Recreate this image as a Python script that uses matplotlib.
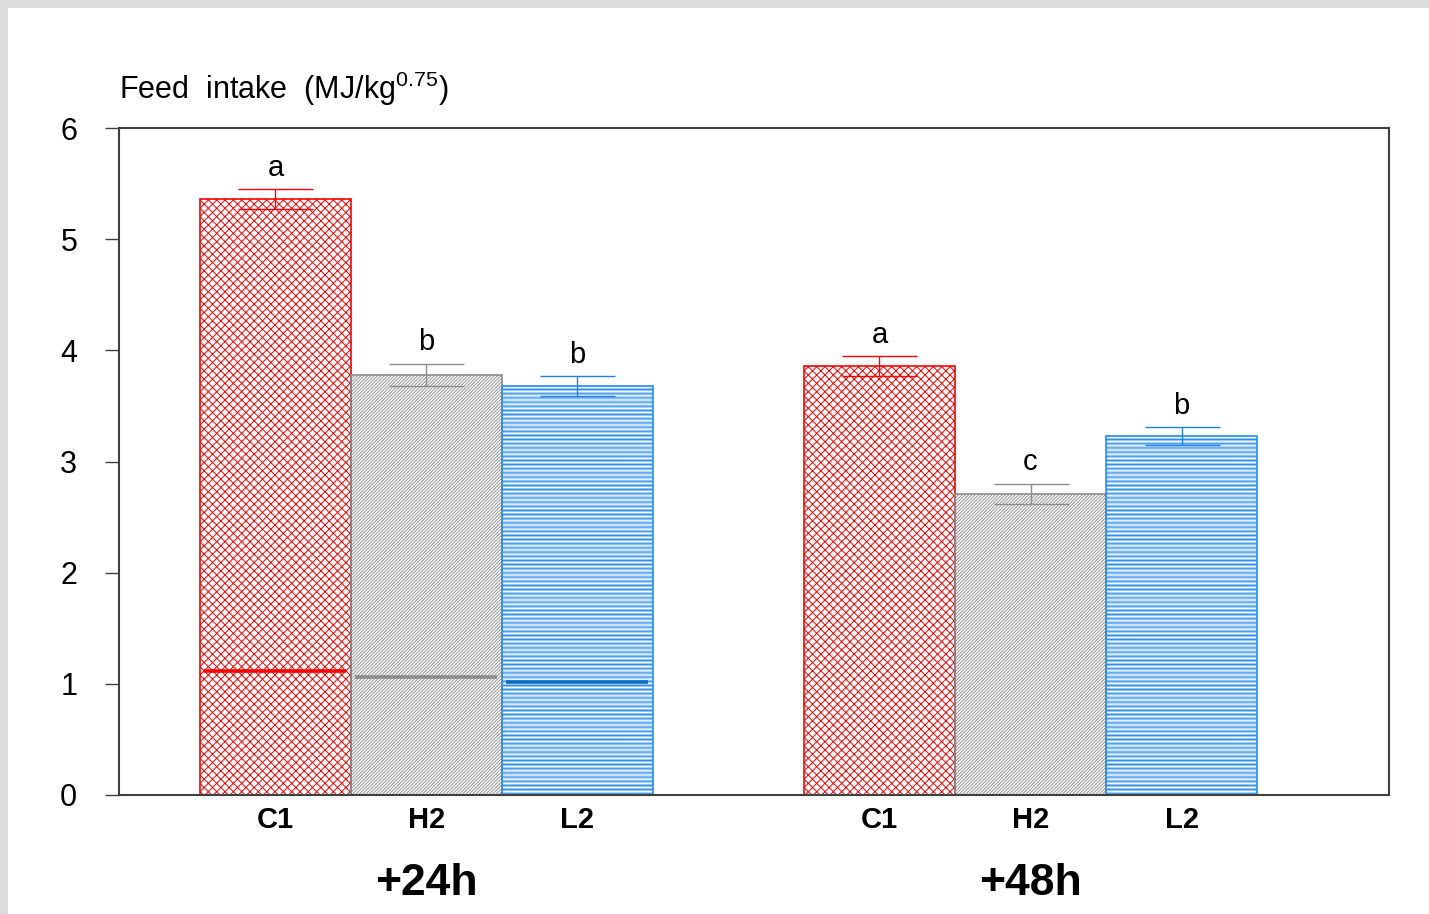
import matplotlib
matplotlib.use('Agg')
import matplotlib.pyplot as plt
import matplotlib.transforms as mtransforms
from matplotlib.patches import Rectangle

# ---- data ----
groups = ['+24h', '+48h']
treatments = ['C1', 'H2', 'L2']
means_24h = [5.36, 3.78, 3.68]
means_48h = [3.86, 2.71, 3.23]
sem_24h = [0.09, 0.10, 0.09]
sem_48h = [0.09, 0.09, 0.08]
letters_24h = ['a', 'b', 'b']
letters_48h = ['a', 'c', 'b']
ref_24h = [1.115, 1.06, 1.017]
yticks = [0, 1, 2, 3, 4, 5, 6]

# ---- style ----
edge_colors = ['#ff0000', '#8c8c8c', '#1e90ff']
hatch_colors = ['#ff0000', '#959595', '#8cc6ff']
overlay_hatch = [None, None, '----']
overlay_colors = [None, None, '#1e7fe8']
err_colors = ['#ff0000', '#8c8c8c', '#1e80e8']
ref_colors = ['#ff0000', '#8c8c8c', '#0a6fc2']
hatches = ['xxxx', '//////////', '--------']

plt.rcParams['font.family'] = ['Liberation Sans', 'DejaVu Sans']
plt.rcParams['mathtext.fontset'] = 'custom'
plt.rcParams['mathtext.rm'] = 'Liberation Sans'
plt.rcParams['mathtext.it'] = 'Liberation Sans:italic'
plt.rcParams['mathtext.bf'] = 'Liberation Sans:bold'
plt.rcParams['hatch.linewidth'] = 0.7

W, H = 1429, 914
fig = plt.figure(figsize=(W / 100, H / 100), dpi=100, facecolor='#dcdcdc')
fig.patches.append(Rectangle((8 / W, 0), 1, (H - 8) / H, transform=fig.transFigure,
                             facecolor='white', edgecolor='none', zorder=-10))
ax = fig.add_axes([119 / W, 119 / H, 1270 / W, 667 / H])

all_means = [means_24h, means_48h]
all_sems = [sem_24h, sem_48h]
all_letters = [letters_24h, letters_48h]
tick_pos = []
tick_lab = []
for g, (means, sems, lets) in enumerate(zip(all_means, all_sems, all_letters)):
    for i in range(3):
        x = g * 4 + i
        ax.bar(x, means[i], width=1, color='white', edgecolor=hatch_colors[i],
               hatch=hatches[i], linewidth=0, zorder=2)
        if overlay_hatch[i]:
            ax.bar(x, means[i], width=1, color='none', edgecolor=overlay_colors[i],
                   hatch=overlay_hatch[i], linewidth=0, zorder=2.1)
        ax.bar(x, means[i], width=1, color='none', edgecolor=edge_colors[i],
               linewidth=1.2, zorder=2.2)
        ax.errorbar(x, means[i], yerr=sems[i], fmt='none', ecolor=err_colors[i],
                    elinewidth=1, capsize=27, capthick=1, zorder=3)
        ax.text(x, means[i] + sems[i] + 0.12, lets[i], ha='center', va='baseline',
                fontsize=21, color='black')
        tick_pos.append(x)
        tick_lab.append(treatments[i])

for i in range(3):
    ax.hlines(ref_24h[i], i - 0.47, i + 0.47, color=ref_colors[i], linewidth=2.6, zorder=4)

ax.set_xlim(-1.036, 7.374)
ax.set_ylim(0, 6)
ax.set_yticks(yticks)
ax.set_yticklabels([str(t) for t in yticks])
ax.set_xticks(tick_pos)
ax.set_xticklabels(tick_lab, fontsize=21, fontweight='bold')
ax.tick_params(axis='x', length=0, pad=8)
ax.tick_params(axis='y', length=10, width=1, color='#404040', labelsize=22, pad=20)
for sp in ax.spines.values():
    sp.set_color('#404040')
    sp.set_linewidth(1.5)

trans = mtransforms.blended_transform_factory(ax.transData, ax.transAxes)
for g, name in enumerate(groups):
    ax.text(g * 4 + 1, -0.133, name, transform=trans, ha='center', va='center',
            fontsize=32, fontweight='bold')

fig.text(119 / W, (H - 89) / H, r'Feed  intake  (MJ/kg$^{0.75}$)', fontsize=22,
         ha='left', va='center')

fig.savefig('out.png', dpi=100, facecolor=fig.get_facecolor())
